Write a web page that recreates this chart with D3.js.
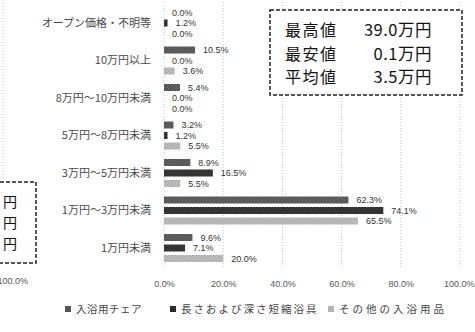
<!DOCTYPE html>
<html>
<head>
<meta charset="utf-8">
<script src="https://cdn.jsdelivr.net/npm/d3@7"></script>
<style>
  html, body { margin: 0; padding: 0; background: #fff; }
  svg { display: block; font-family: "Noto Sans CJK JP", "Noto Sans", sans-serif; }
  .num { font-family: "Liberation Sans", Arial, sans-serif; }
</style>
</head>
<body>
<svg id="chart" width="475" height="332"></svg>
<script>
// Price bands (top to bottom)
const categories = [
  "オープン価格・不明等",
  "10万円以上",
  "8万円～10万円未満",
  "5万円～8万円未満",
  "3万円～5万円未満",
  "1万円～3万円未満",
  "1万円未満"
];
const seriesNames = ["入浴用チェア", "長さおよび深さ短縮浴具", "その他の入浴用品"];
const chairValues = [0.0, 10.5, 5.4, 3.2, 8.9, 62.3, 9.6];
const tubValues   = [1.2, 0.0, 0.0, 1.2, 16.5, 74.1, 7.1];
const otherValues = [0.0, 3.6, 0.0, 5.5, 5.5, 65.5, 20.0];
const xTicks = [0, 20, 40, 60, 80, 100];
const summaryLabels = ["最高値", "最安値", "平均値"];
const summaryValues = ["39.0万円", "0.1万円", "3.5万円"];

const seriesValues = [chairValues, tubValues, otherValues];

const svg = d3.select("#chart");
const defs = svg.append("defs");

// Halftone-like fills for the three series
function checker(id, base, dot, size) {
  const p = defs.append("pattern")
    .attr("id", id).attr("patternUnits", "userSpaceOnUse")
    .attr("width", size).attr("height", size);
  p.append("rect").attr("width", size).attr("height", size).attr("fill", base);
  p.append("rect").attr("width", size / 2).attr("height", size / 2).attr("fill", dot);
  p.append("rect").attr("x", size / 2).attr("y", size / 2)
    .attr("width", size / 2).attr("height", size / 2).attr("fill", dot);
}
checker("fill0", "#3c3c3c", "#7a7a7a", 3);
checker("fill1", "#1e1e1e", "#4a4a4a", 3);
checker("fill2", "#9a9a9a", "#d4d4d4", 3);
const fills = ["url(#fill0)", "url(#fill1)", "url(#fill2)"];
const legendFills = ["#555", "#2a2a2a", "#b4b4b4"];

const x = d3.scaleLinear().domain([0, 100]).range([164, 460]);
const y0 = d3.scaleBand().domain(categories).range([4.25, 266.75]);
const y1 = d3.scaleBand().domain(d3.range(3))
  .range([0, y0.bandwidth() - 6])
  .paddingInner(0.333).paddingOuter(0.1667);
const yOff = 3;

// Dotted vertical gridlines
svg.append("g").selectAll("line").data(xTicks).join("line")
  .attr("x1", d => x(d)).attr("x2", d => x(d))
  .attr("y1", 2).attr("y2", 268)
  .attr("stroke", "#c4c4c4").attr("stroke-width", 1)
  .attr("stroke-dasharray", "1,2");

// Tick labels along the bottom
const axis = d3.axisBottom(x).tickValues(xTicks).tickSize(0)
  .tickFormat(d => d.toFixed(1) + "%");
const axisG = svg.append("g").attr("transform", "translate(0,278)").call(axis);
axisG.select(".domain").remove();
axisG.selectAll("text")
  .attr("class", "num")
  .attr("font-size", 9).attr("fill", "#555");
axisG.attr("font-family", null);
axisG.selectAll(".tick:last-of-type text").attr("text-anchor", "end").attr("dx", "14");

// Category labels
svg.append("g").selectAll("text").data(categories).join("text")
  .attr("x", 151)
  .attr("y", d => y0(d) + y0.bandwidth() / 2)
  .attr("dy", "0.35em")
  .attr("text-anchor", "end")
  .attr("font-size", 11)
  .attr("fill", "#4a4a4a")
  .text(d => d);

// Grouped bars with value labels
const groups = svg.append("g").selectAll("g").data(categories).join("g")
  .attr("transform", d => `translate(0,${y0(d) + yOff})`);

groups.selectAll("rect")
  .data((c, i) => seriesValues.map((vals, s) => ({ s, v: vals[i] })))
  .join("rect")
  .attr("x", x(0))
  .attr("y", d => y1(d.s))
  .attr("width", d => x(d.v) - x(0))
  .attr("height", y1.bandwidth())
  .attr("fill", d => fills[d.s]);

groups.selectAll("text")
  .data((c, i) => seriesValues.map((vals, s) => ({ s, v: vals[i] })))
  .join("text")
  .attr("class", "num")
  .attr("x", d => x(d.v) + 8)
  .attr("y", d => y1(d.s) + y1.bandwidth() / 2)
  .attr("dy", "0.35em")
  .attr("font-size", 9)
  .attr("fill", "#333")
  .text(d => d.v.toFixed(1) + "%");

// Legend
const legendX = [65, 170, 328];
const legend = svg.append("g").selectAll("g").data(seriesNames).join("g")
  .attr("transform", (d, i) => `translate(${legendX[i]},309)`);
legend.append("rect")
  .attr("x", 0).attr("y", -3).attr("width", 6).attr("height", 6)
  .attr("fill", (d, i) => legendFills[i]);
legend.append("text")
  .attr("x", 11).attr("dy", "0.35em")
  .attr("font-size", 10.5).attr("fill", "#444")
  .attr("letter-spacing", (d, i) => [0.5, 2, 3][i])
  .text(d => d);

// Summary box (top right)
svg.append("rect")
  .attr("x", 270).attr("y", 10).attr("width", 192).attr("height", 85)
  .attr("fill", "#fff").attr("stroke", "#222").attr("stroke-width", 1.5)
  .attr("stroke-dasharray", "4,2");
const box = svg.append("g");
box.selectAll("text.lab").data(summaryLabels).join("text")
  .attr("class", "lab")
  .attr("x", 285).attr("y", (d, i) => 36 + i * 23.5)
  .attr("font-size", 16).attr("letter-spacing", 1.5).attr("fill", "#111")
  .text(d => d);
box.selectAll("text.val").data(summaryValues).join("text")
  .attr("class", "val")
  .attr("x", 432).attr("y", (d, i) => 36 + i * 23.5)
  .attr("text-anchor", "end")
  .attr("font-size", 16.5).attr("letter-spacing", 0.5).attr("fill", "#111")
  .text(d => d);

// Edge of the neighbouring panel on the left
const edge = svg.append("g");
edge.append("line")
  .attr("x1", 3).attr("x2", 3).attr("y1", 0).attr("y2", 180)
  .attr("stroke", "#c4c4c4").attr("stroke-dasharray", "1,2");
edge.append("rect")
  .attr("x", -60).attr("y", 182).attr("width", 96).attr("height", 81)
  .attr("fill", "#fff").attr("stroke", "#222").attr("stroke-width", 1.5)
  .attr("stroke-dasharray", "4,2");
edge.selectAll("text.yen").data([0, 1, 2]).join("text")
  .attr("class", "yen")
  .attr("x", 3).attr("y", d => 207 + d * 21)
  .attr("font-size", 14).attr("fill", "#111")
  .text("円");
edge.append("text")
  .attr("class", "num")
  .attr("x", 28).attr("y", 278).attr("dy", "0.71em")
  .attr("text-anchor", "end")
  .attr("font-size", 9).attr("fill", "#555")
  .text("100.0%");
</script>
</body>
</html>
